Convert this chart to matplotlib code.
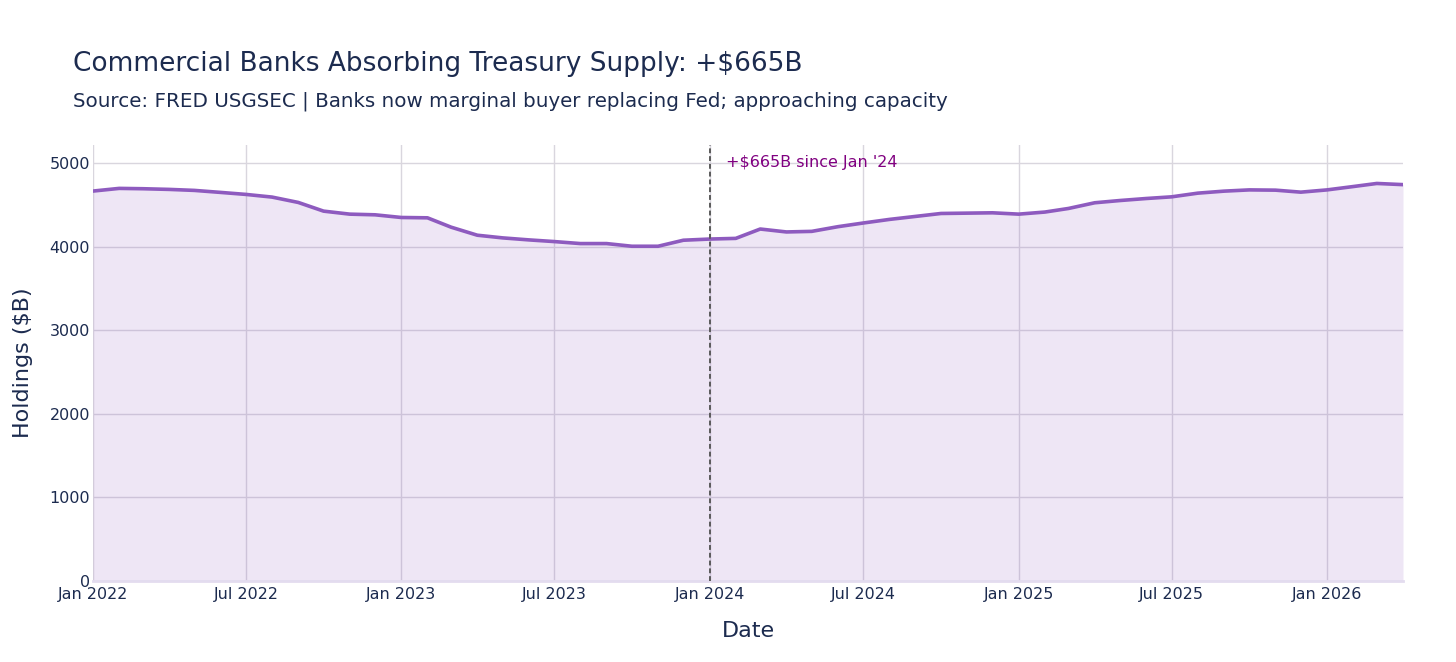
import numpy as np
import pandas as pd
import matplotlib
matplotlib.use('Agg')
import matplotlib.pyplot as plt
import matplotlib.dates as mdates

# monthly holdings, $B
dates = pd.date_range('2022-01-01', '2026-04-01', freq='MS')
holdings = [4664, 4696, 4692, 4684, 4672, 4648, 4624, 4592, 4528, 4424, 4388, 4380,
            4348, 4344, 4232, 4136, 4104, 4080, 4060, 4036, 4036, 4004, 4004, 4076,
            4090, 4098, 4210, 4175, 4182, 4238, 4282, 4325, 4361, 4396, 4400, 4404,
            4388, 4413, 4456, 4524, 4551, 4575, 4595, 4639, 4663, 4678, 4675, 4651,
            4678, 4718, 4755, 4741]
marker_date = pd.Timestamp('2024-01-01')
note = "+$665B since Jan '24"
yticks = [0, 1000, 2000, 3000, 4000, 5000]
xticks = pd.date_range('2022-01-01', '2026-01-01', freq='6MS')

txt = '#1c2b4f'
line_col = '#8e5bbf'
grid_col = '#d9d6de'

plt.rcParams['font.family'] = ['DejaVu Sans']

fig = plt.figure(figsize=(14.56, 6.62), dpi=100)
ax = fig.add_axes([93/1456, 1-581/662, (1403-93)/1456, (581-145)/662])

ax.fill_between(dates, holdings, 0, color=line_col, alpha=0.15, lw=0, zorder=2)
ax.plot(dates, holdings, color=line_col, lw=2.6, zorder=3)
ax.axvline(marker_date, color='#5a5a5a', ls=(0, (2.5, 1.5)), lw=1.4, zorder=4)
ax.text(pd.Timestamp('2024-01-20'), 5000, note, color='#800080', fontsize=11.5,
        va='center', ha='left', zorder=5)

ax.set_xlim(pd.Timestamp('2022-01-01'), pd.Timestamp('2026-04-01'))
ax.set_ylim(0, 5215)
ax.set_yticks(yticks)
ax.set_xticks(xticks)
ax.xaxis.set_major_formatter(mdates.DateFormatter('%b %Y'))
ax.grid(True, color=grid_col, lw=1, zorder=0)
ax.set_axisbelow(True)
for s in ['top', 'right', 'left']:
    ax.spines[s].set_visible(False)
ax.spines['bottom'].set_color('#e3dcef')
ax.spines['bottom'].set_linewidth(2)
ax.tick_params(length=0, labelsize=11.5, colors=txt, pad=4)
ax.tick_params(axis='y', pad=2)

ax.set_xlabel('Date', fontsize=16, color=txt, labelpad=14)
ax.set_ylabel('Holdings ($B)', fontsize=16, color=txt, labelpad=12)

fig.text(73/1456, 1-64/662, 'Commercial Banks Absorbing Treasury Supply: +$665B',
         fontsize=19, color=txt, va='center', ha='left')
fig.text(73/1456, 1-101/662, 'Source: FRED USGSEC | Banks now marginal buyer replacing Fed; approaching capacity',
         fontsize=14.3, color=txt, va='center', ha='left')

fig.savefig('out.png', dpi=100, facecolor='white')
